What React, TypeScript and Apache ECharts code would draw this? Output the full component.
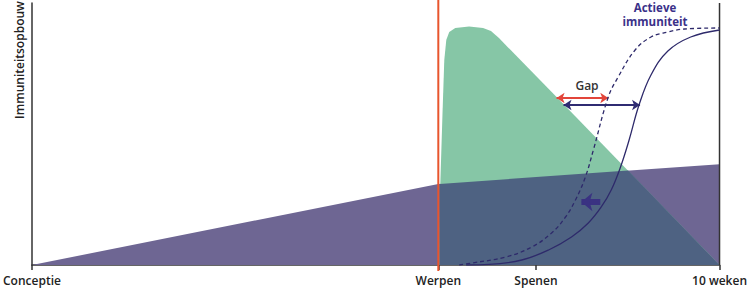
import React, { useEffect, useRef } from "react";
import * as echarts from "echarts";

// x: relative time (0 = Conceptie, 100 = 10 weken); y: immunity level (0-100)
const tickValues = [0, 59.1, 73.3, 100];
const tickLabels = ["Conceptie", "Werpen", "Spenen", "10 weken"];

// maternal / passive immunity (purple)
const purpleArea: number[][] = [
  [0, 0],
  [59.1, 30.9],
  [100, 38.5],
];

// colostrum immunity (green)
const greenArea: number[][] = [
  [59.25, 0],
  [59.39, 30.9],
  [59.68, 55.3],
  [59.97, 78.2],
  [60.26, 85.9],
  [60.69, 88.9],
  [61.56, 90.5],
  [63.58, 91.0],
  [65.61, 90.5],
  [66.76, 89.3],
  [67.92, 86.6],
  [76.3, 64.1],
  [100, 0],
];

// overlap of both (dark)
const overlapArea: number[][] = [
  [59.25, 0],
  [59.3, 30.94],
  [86.71, 36.07],
  [100, 0],
];

// active immunity, improved (dashed)
const activeDashed: number[][] = [
  [62.14, 0],
  [64.02, 0.76],
  [68.93, 3.05],
  [72.69, 6.87],
  [75.58, 12.21],
  [77.6, 18.32],
  [79.05, 24.81],
  [80.49, 33.59],
  [81.65, 43.89],
  [83.82, 64.12],
  [85.26, 71.76],
  [87.72, 82.06],
  [90.03, 87.02],
  [92.49, 88.93],
  [94.94, 90.08],
  [100, 90.46],
];

// active immunity (solid)
const activeSolid: number[][] = [
  [63.15, 0],
  [66.47, 0.2],
  [71.24, 1.91],
  [75.14, 5.73],
  [78.47, 10.69],
  [80.92, 16.03],
  [82.8, 22.14],
  [84.25, 28.63],
  [85.55, 37.02],
  [86.85, 47.71],
  [88.29, 61.07],
  [90.03, 72.52],
  [92.49, 81.68],
  [95.81, 87.02],
  [100, 89.69],
];

const werpenLine: number[][] = [
  [59.1, -2.3],
  [59.1, 101.1],
];
const rightLine: number[][] = [
  [100, 0],
  [100, 100],
];

const gapRed = { from: 76.3, to: 83.82, y: 63.74 };
const gapNavy = { from: 77.31, to: 88.44, y: 61.07 };
const shiftArrow = { from: 82.66, to: 79.91, y: 24.05 };

const FONT = "'Open Sans', 'DejaVu Sans', sans-serif";
const NAVY = "#2e2a6b";

export default function App() {
  const ref = useRef<HTMLDivElement>(null);

  useEffect(() => {
    document.body.style.margin = "0";
    if (!ref.current) return;
    const chart = echarts.init(ref.current, undefined, { renderer: "svg" });
    chart.setOption({
      animation: false,
      grid: { left: 30, right: 28, top: 3, bottom: 23 },
      xAxis: {
        type: "value",
        min: 0,
        max: 100,
        splitLine: { show: false },
        axisLine: { show: true, lineStyle: { color: "#333", width: 1.5 } },
        axisTick: {
          show: true,
          customValues: tickValues,
          length: 5,
          lineStyle: { color: "#333", width: 1.5 },
        },
        axisLabel: {
          show: true,
          customValues: tickValues,
          margin: 9,
          color: "#222",
          fontSize: 12,
          fontWeight: 600,
          fontFamily: FONT,
          formatter: (v: number) => {
            const i = tickValues.findIndex((t) => Math.abs(t - v) < 0.01);
            return i >= 0 ? tickLabels[i] : "";
          },
        },
      },
      yAxis: {
        type: "value",
        min: 0,
        max: 100,
        splitLine: { show: false },
        axisLine: { show: true, lineStyle: { color: "#333", width: 1.5 } },
        axisTick: { show: false },
        axisLabel: { show: false },
      },
      graphic: [
        {
          type: "text",
          x: 19,
          y: 60,
          rotation: Math.PI / 2,
          style: {
            text: "Immuniteitsopbouw",
            fill: "#222",
            font: `600 12px ${FONT}`,
            textAlign: "center",
            textVerticalAlign: "middle",
          },
        },
        {
          type: "text",
          x: 655,
          y: 7,
          style: {
            text: "Actieve",
            fill: "#3b3189",
            font: `700 11.5px ${FONT}`,
            textAlign: "center",
            textVerticalAlign: "middle",
          },
        },
        {
          type: "text",
          x: 655,
          y: 21,
          style: {
            text: "immuniteit",
            fill: "#3b3189",
            font: `700 11.5px ${FONT}`,
            textAlign: "center",
            textVerticalAlign: "middle",
          },
        },
        {
          type: "text",
          x: 587,
          y: 85,
          style: {
            text: "Gap",
            fill: "#333",
            font: `600 12px ${FONT}`,
            textAlign: "center",
            textVerticalAlign: "middle",
          },
        },
      ],
      series: [
        {
          type: "line",
          data: purpleArea,
          symbol: "none",
          lineStyle: { width: 0 },
          areaStyle: { color: "#6e6693", opacity: 1 },
          z: 1,
          silent: true,
        },
        {
          type: "line",
          data: greenArea,
          symbol: "none",
          lineStyle: { width: 0 },
          areaStyle: { color: "#86c6a6", opacity: 1 },
          z: 2,
          silent: true,
        },
        {
          type: "line",
          data: overlapArea,
          symbol: "none",
          lineStyle: { width: 0 },
          areaStyle: { color: "#4e6282", opacity: 1 },
          z: 3,
          silent: true,
        },
        {
          type: "line",
          data: werpenLine,
          symbol: "none",
          clip: false,
          lineStyle: { color: "#e8552e", width: 2 },
          z: 4,
          silent: true,
        },
        {
          type: "line",
          data: rightLine,
          symbol: "none",
          lineStyle: { color: "#333", width: 1.5 },
          z: 4,
          silent: true,
        },
        {
          type: "line",
          data: activeDashed,
          symbol: "none",
          smooth: 0.4,
          lineStyle: { color: NAVY, width: 1.3, type: [4, 3] },
          z: 5,
          silent: true,
        },
        {
          type: "line",
          data: activeSolid,
          symbol: "none",
          smooth: 0.4,
          lineStyle: { color: NAVY, width: 1.3 },
          z: 5,
          silent: true,
          markLine: {
            silent: true,
            animation: false,
            label: { show: false },
            data: [
              [
                {
                  coord: [gapRed.from, gapRed.y],
                  symbol: "arrow",
                  symbolSize: [8, 8],
                  lineStyle: { color: "#e2453a", width: 2, type: "solid" },
                },
                { coord: [gapRed.to, gapRed.y], symbol: "arrow", symbolSize: [8, 8] },
              ],
              [
                {
                  coord: [gapNavy.from, gapNavy.y],
                  symbol: "arrow",
                  symbolSize: [8, 8],
                  lineStyle: { color: "#2f2b72", width: 2, type: "solid" },
                },
                { coord: [gapNavy.to, gapNavy.y], symbol: "arrow", symbolSize: [8, 8] },
              ],
              [
                {
                  coord: [shiftArrow.from, shiftArrow.y],
                  symbol: "none",
                  lineStyle: { color: "#3a3282", width: 6, type: "solid" },
                },
                { coord: [shiftArrow.to, shiftArrow.y], symbol: "arrow", symbolSize: [14, 11] },
              ],
            ],
          },
        },
      ],
    });
    return () => chart.dispose();
  }, []);

  return <div ref={ref} style={{ width: 750, height: 288 }} />;
}
